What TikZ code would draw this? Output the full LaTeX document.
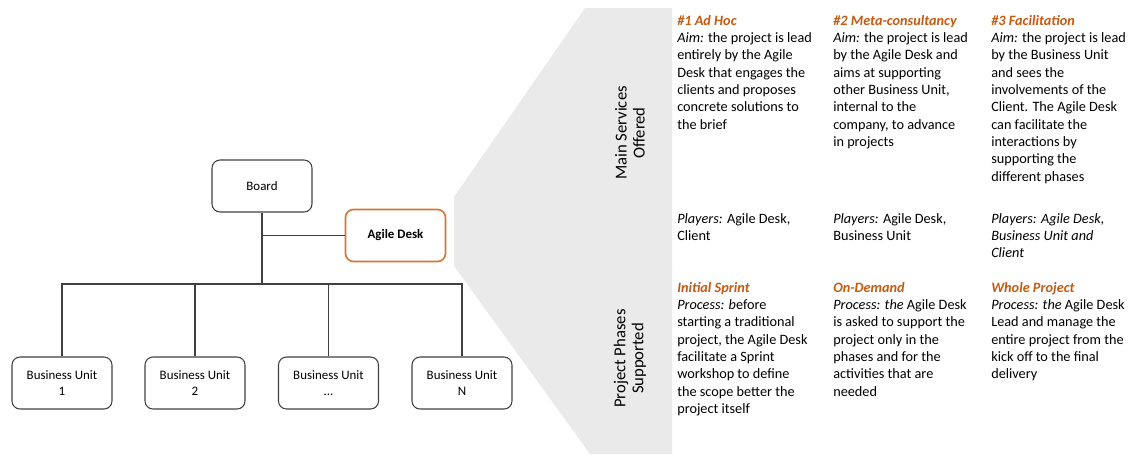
\documentclass[tikz,border=0pt]{standalone}
\usepackage{fontspec}
\setmainfont{Carlito}
\definecolor{deskorange}{RGB}{197,90,17}
\definecolor{deskborder}{RGB}{214,116,52}
\definecolor{linegray}{RGB}{64,64,64}
\definecolor{panelgray}{RGB}{234,234,234}
\newcommand{\servtitle}[1]{\textcolor{deskorange}{\textbf{\textit{#1}}}}

\begin{document}
\begin{tikzpicture}[x=0.75pt, y=-0.75pt]
	\tikzstyle{unit}=[rectangle, rounded corners=6pt, draw=linegray, line width=0.8pt, minimum width=75pt, minimum height=39pt, align=center, font=\fontsize{9.7}{12}\selectfont]
	\tikzstyle{desk}=[unit, draw=deskborder, line width=1.2pt, font=\fontsize{9.7}{12}\selectfont\bfseries]
	\tikzstyle{col}=[anchor=north west, inner sep=0pt, align=left, font=\fontsize{10.7}{13}\selectfont]
	\tikzstyle{side}=[rotate=90, inner sep=0pt, align=center, font=\fontsize{12.5}{13.5}\selectfont]
	\useasboundingbox (0, 0) rectangle (1129, 454);

	% grey panel behind the services
	\fill[panelgray] (585, 8) -- (672, 8) -- (672, 454) -- (590, 454) -- (454, 266) -- (454, 197) -- cycle;

	% org chart
	\draw node[unit] at (262, 186) (board) {Board};
	\draw node[desk] at (395.5, 235.5) (agile) {Agile Desk};
	\draw node[unit] at (62, 383) (bu1) {Business Unit\\1};
	\draw node[unit] at (195, 383) (bu2) {Business Unit\\2};
	\draw node[unit] at (328.5, 383) (bu3) {Business Unit\\...};
	\draw node[unit] at (462, 383) (bu4) {Business Unit\\N};
	\coordinate (bus) at (262, 284);

	\draw[linegray, line width=0.8pt] (board) -- (bus);
	\draw[linegray, line width=0.8pt] (board |- agile) -- (agile);
	\draw[linegray, line width=0.8pt] (bu1.north) |- (bus) -| (bu4.north);
	\draw[linegray, line width=0.8pt] (bu2.north) -- (bu2 |- bus);
	\draw[linegray, line width=0.8pt] (bu3.north) -- (bu3 |- bus);

	% row labels
	\draw node[side] at (630, 133) (services) {Main Services\\Offered};
	\draw node[side] at (630, 358.5) (phases) {Project Phases\\Supported};

	% services offered
	\draw node[col] at (677, 12.9) (adhoc) {\strut\servtitle{\#1 Ad Hoc}\\
		\textit{Aim:} the project is lead\\entirely by the Agile\\Desk that engages the\\clients and proposes\\concrete solutions to\\the brief};
	\draw node[col] at (833, 12.9) (meta) {\strut\servtitle{\#2 Meta-consultancy}\\
		\textit{Aim:} the project is lead\\by the Agile Desk and\\aims at supporting\\other Business Unit,\\internal to the\\company, to advance\\in projects};
	\draw node[col] at (991, 12.9) (facil) {\strut\servtitle{\#3 Facilitation}\\
		\textit{Aim:} the project is lead\\by the Business Unit\\and sees the\\involvements of the\\Client. The Agile Desk\\can facilitate the\\interactions by\\supporting the\\different phases};

	\draw node[col] at (677, 210.6) (players1) {\strut\textit{Players:} Agile Desk,\\Client};
	\draw node[col] at (833, 210.6) (players2) {\strut\textit{Players:} Agile Desk,\\Business Unit};
	\draw node[col] at (991, 210.6) (players3) {\strut\textit{Players: Agile Desk,}\\\textit{Business Unit and}\\\textit{Client}};

	% project phases supported
	\draw node[col] at (677, 279.6) (sprint) {\strut\servtitle{Initial Sprint}\\
		\textit{Process: b}efore\\starting a traditional\\project, the Agile Desk\\facilitate a Sprint\\workshop to define\\the scope better the\\project itself};
	\draw node[col] at (833, 279.6) (ondemand) {\strut\servtitle{On-Demand}\\
		\textit{Process: the} Agile Desk\\is asked to support the\\project only in the\\phases and for the\\activities that are\\needed};
	\draw node[col] at (991, 279.6) (whole) {\strut\servtitle{Whole Project}\\
		\textit{Process: the} Agile Desk\\Lead and manage the\\entire project from the\\kick off to the final\\delivery};
\end{tikzpicture}
\end{document}
